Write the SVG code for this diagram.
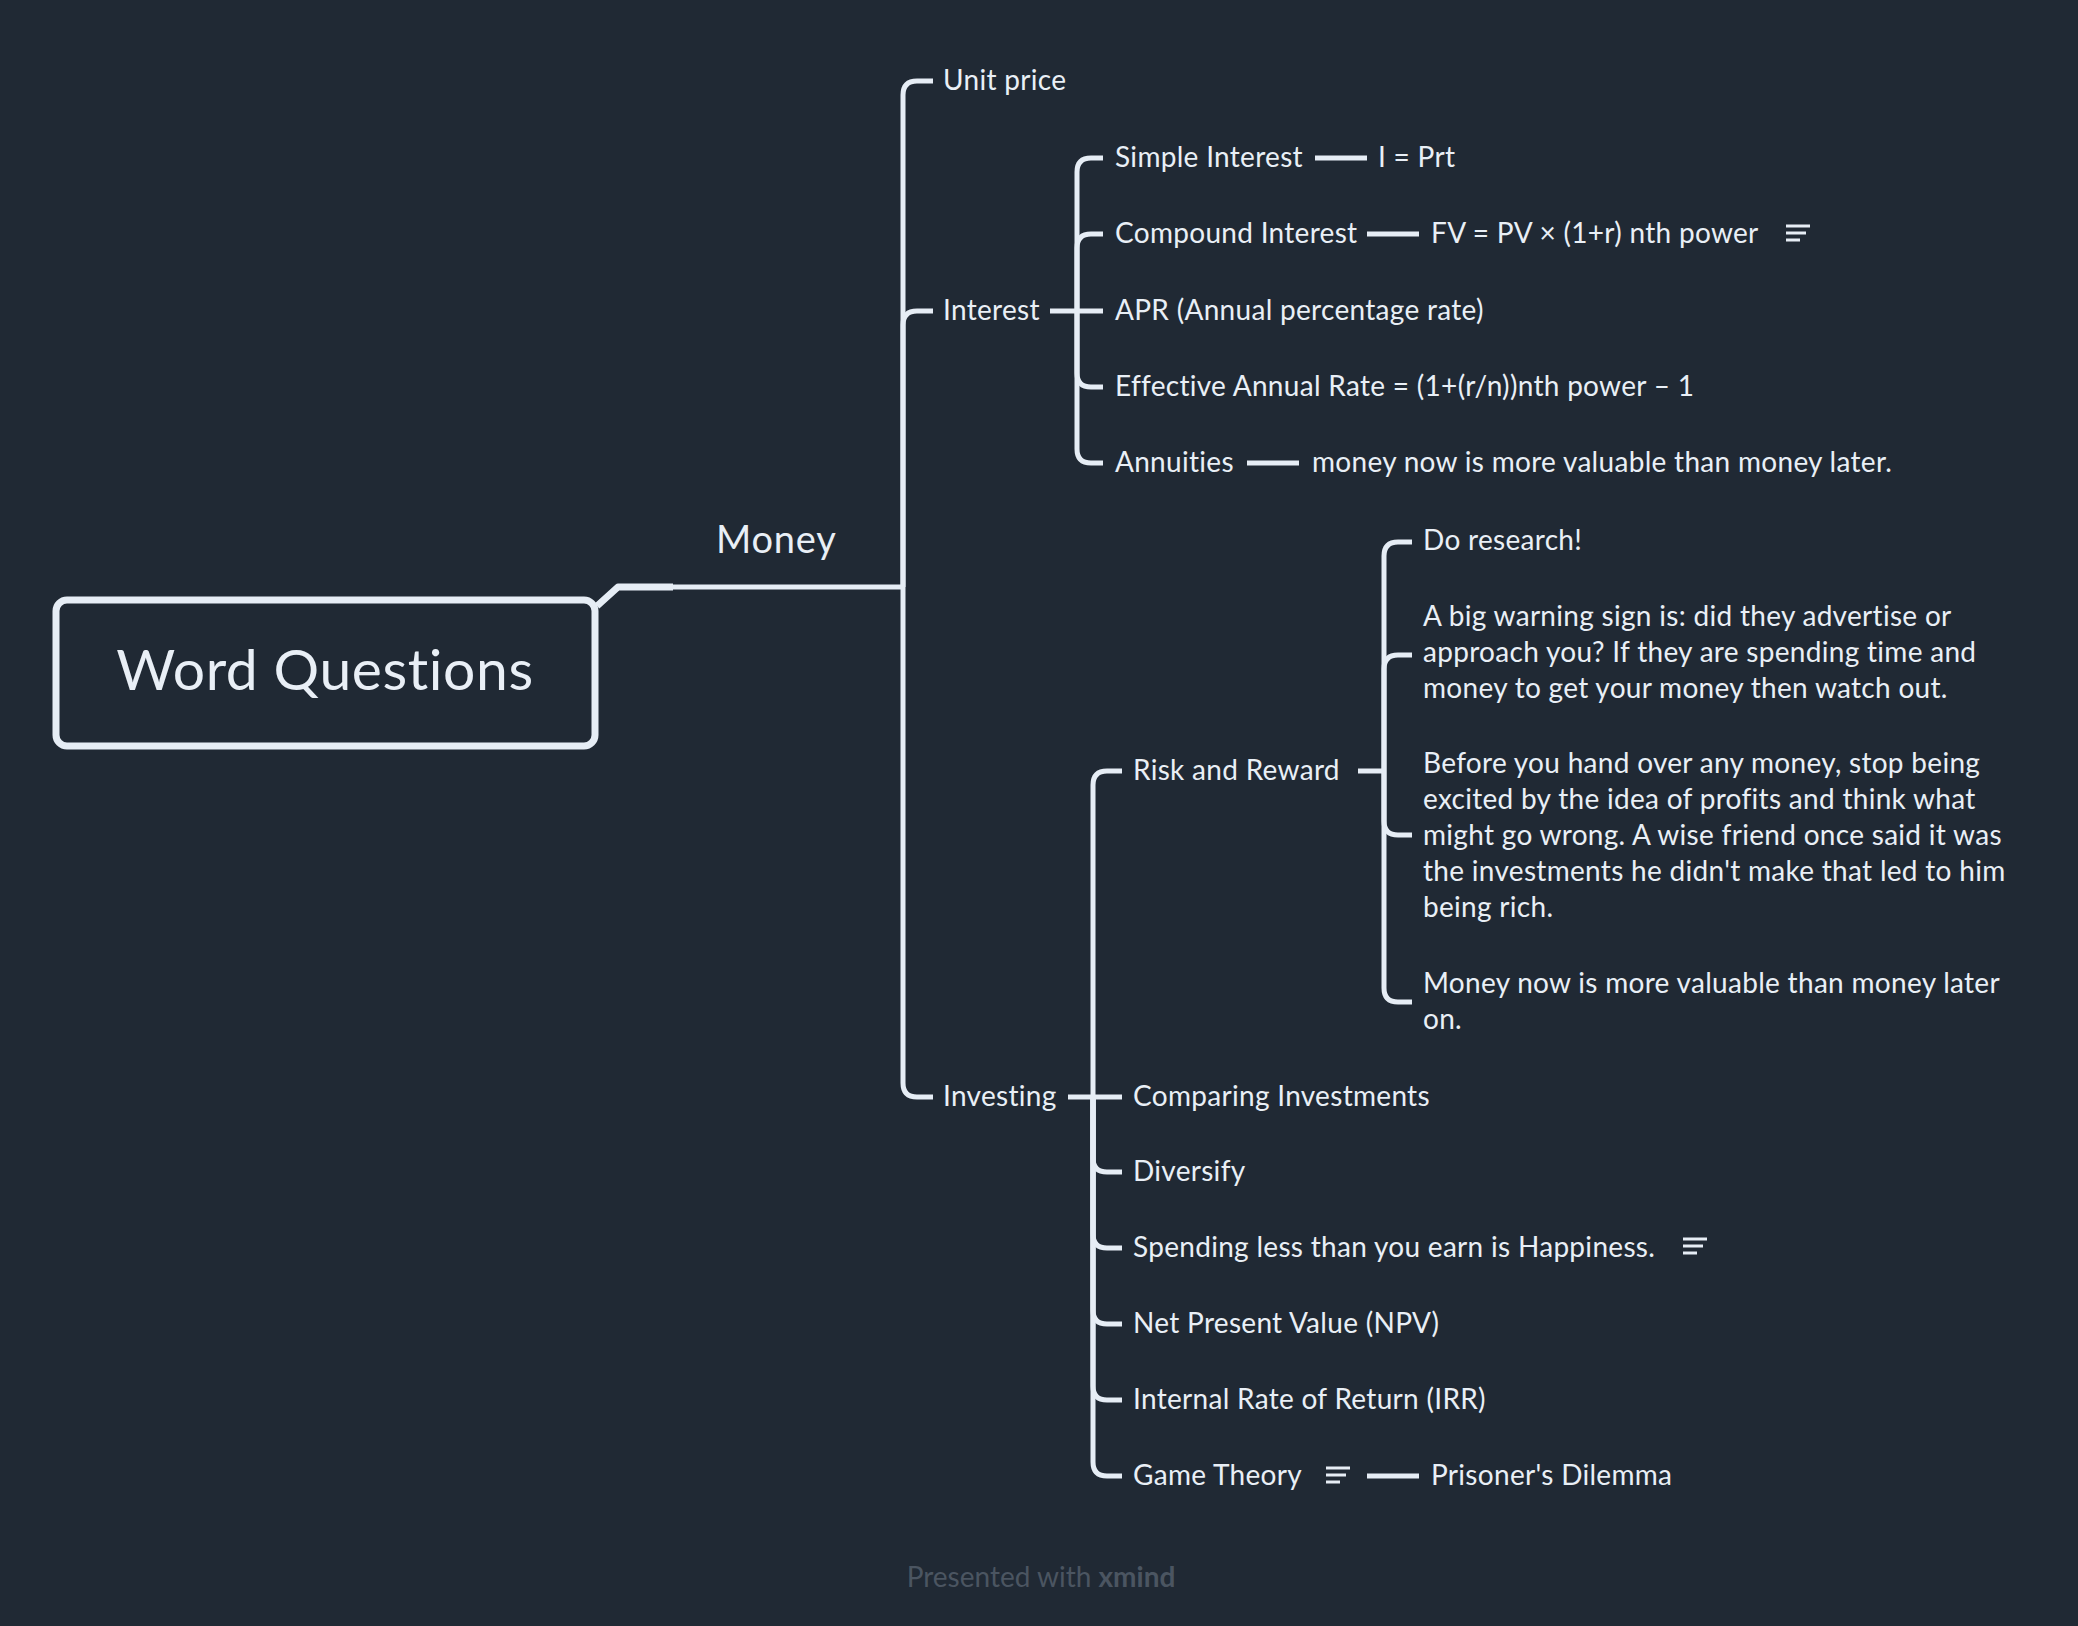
<svg xmlns="http://www.w3.org/2000/svg" width="2078" height="1626" viewBox="0 0 2078 1626">
<defs>
<style>
.t{font-family:Lato,"Open Sans","Noto Sans",sans-serif;font-size:28px;letter-spacing:0.3px;fill:#E9EFF6}
.c{fill:none;stroke:#E6EDF5;stroke-width:5;stroke-linecap:butt;stroke-linejoin:round}
.ic{stroke:#E6EDF5;stroke-width:3;stroke-linecap:butt}
</style>
</defs>
<rect x="0" y="0" width="2078" height="1626" fill="#202934"/>
<g id="connectors">
<path class="c" d="M597,606 L618,587 H673" style="stroke-width:7"/>
<path class="c" d="M673,587 H903"/>
<path class="c" d="M903,587 V95 Q903,81 917,81 H933"/>
<path class="c" d="M903,587 V325 Q903,311 917,311 H933"/>
<path class="c" d="M903,587 V1083 Q903,1097 917,1097 H933"/>
<path class="c" d="M1050,311 H1077"/>
<path class="c" d="M1077,311 V172 Q1077,158 1091,158 H1103"/>
<path class="c" d="M1077,311 V248 Q1077,234 1091,234 H1103"/>
<path class="c" d="M1077,311 H1103"/>
<path class="c" d="M1077,311 V373 Q1077,387 1091,387 H1103"/>
<path class="c" d="M1077,311 V449 Q1077,463 1091,463 H1103"/>
<path class="c" d="M1315,158 H1367"/>
<path class="c" d="M1367,234 H1419"/>
<path class="c" d="M1247,463 H1299"/>
<path class="c" d="M1068,1097 H1093"/>
<path class="c" d="M1093,1097 V785 Q1093,771 1107,771 H1122"/>
<path class="c" d="M1093,1097 H1122"/>
<path class="c" d="M1093,1097 V1158 Q1093,1172 1107,1172 H1122"/>
<path class="c" d="M1093,1097 V1234 Q1093,1248 1107,1248 H1122"/>
<path class="c" d="M1093,1097 V1310 Q1093,1324 1107,1324 H1122"/>
<path class="c" d="M1093,1097 V1386 Q1093,1400 1107,1400 H1122"/>
<path class="c" d="M1093,1097 V1462 Q1093,1476 1107,1476 H1122"/>
<path class="c" d="M1358,771 H1384"/>
<path class="c" d="M1384,771 V556 Q1384,542 1398,542 H1412"/>
<path class="c" d="M1384,771 V669 Q1384,655 1398,655 H1412"/>
<path class="c" d="M1384,771 V821 Q1384,835 1398,835 H1412"/>
<path class="c" d="M1384,771 V988 Q1384,1002 1398,1002 H1412"/>
<path class="c" d="M1367,1476 H1419"/>
</g>
<g id="root">
<rect x="56" y="600" width="539" height="146" rx="11" fill="#202934" stroke="#E6EDF5" stroke-width="7"/>
<text class="t" x="325" y="690" text-anchor="middle" style="font-size:57px;letter-spacing:0.6px">Word Questions</text>
</g>
<g id="money"><text class="t" x="716" y="553" style="font-size:38px;letter-spacing:0.8px">Money</text></g>
<g id="unit-price"><text class="t" x="943" y="90">Unit price</text></g>
<g id="interest"><text class="t" x="943" y="320">Interest</text></g>
<g id="investing"><text class="t" x="943" y="1106">Investing</text></g>
<g id="simple-interest"><text class="t" x="1115" y="167">Simple Interest</text></g>
<g id="i-prt"><text class="t" x="1378" y="167">I = Prt</text></g>
<g id="compound-interest"><text class="t" x="1115" y="243">Compound Interest</text></g>
<g id="fv"><text class="t" x="1431" y="243">FV = PV × (1+r) nth power</text>
<line class="ic" x1="1786" y1="226" x2="1810" y2="226"/><line class="ic" x1="1786" y1="233" x2="1806" y2="233"/><line class="ic" x1="1786" y1="240" x2="1800" y2="240"/></g>
<g id="apr"><text class="t" x="1115" y="320">APR (Annual percentage rate)</text></g>
<g id="ear"><text class="t" x="1115" y="396">Effective Annual Rate = (1+(r/n))nth power – 1</text></g>
<g id="annuities"><text class="t" x="1115" y="472">Annuities</text></g>
<g id="money-now-later"><text class="t" x="1312" y="472">money now is more valuable than money later.</text></g>
<g id="risk-reward"><text class="t" x="1133" y="780">Risk and Reward</text></g>
<g id="do-research"><text class="t" x="1423" y="550">Do research!</text></g>
<g id="warning"><text class="t" x="1423" y="626">A big warning sign is: did they advertise or</text><text class="t" x="1423" y="662">approach you? If they are spending time and</text><text class="t" x="1423" y="698">money to get your money then watch out.</text></g>
<g id="before"><text class="t" x="1423" y="773">Before you hand over any money, stop being</text><text class="t" x="1423" y="809">excited by the idea of profits and think what</text><text class="t" x="1423" y="845">might go wrong. A wise friend once said it was</text><text class="t" x="1423" y="881">the investments he didn't make that led to him</text><text class="t" x="1423" y="917">being rich.</text></g>
<g id="money-now-on"><text class="t" x="1423" y="993">Money now is more valuable than money later</text><text class="t" x="1423" y="1029">on.</text></g>
<g id="comparing"><text class="t" x="1133" y="1106">Comparing Investments</text></g>
<g id="diversify"><text class="t" x="1133" y="1181">Diversify</text></g>
<g id="spending"><text class="t" x="1133" y="1257">Spending less than you earn is Happiness.</text>
<line class="ic" x1="1683" y1="1239" x2="1707" y2="1239"/><line class="ic" x1="1683" y1="1246" x2="1703" y2="1246"/><line class="ic" x1="1683" y1="1253" x2="1697" y2="1253"/></g>
<g id="npv"><text class="t" x="1133" y="1333">Net Present Value (NPV)</text></g>
<g id="irr"><text class="t" x="1133" y="1409">Internal Rate of Return (IRR)</text></g>
<g id="game-theory"><text class="t" x="1133" y="1485">Game Theory</text>
<line class="ic" x1="1326" y1="1468" x2="1350" y2="1468"/><line class="ic" x1="1326" y1="1475" x2="1346" y2="1475"/><line class="ic" x1="1326" y1="1482" x2="1340" y2="1482"/></g>
<g id="prisoners"><text class="t" x="1431" y="1485">Prisoner's Dilemma</text></g>
<g id="footer"><text x="1041" y="1587" text-anchor="middle" style="font-family:Lato,'Open Sans',sans-serif;font-size:28px;fill:#4B5561">Presented with <tspan font-weight="bold">xmind</tspan></text></g>
</svg>
